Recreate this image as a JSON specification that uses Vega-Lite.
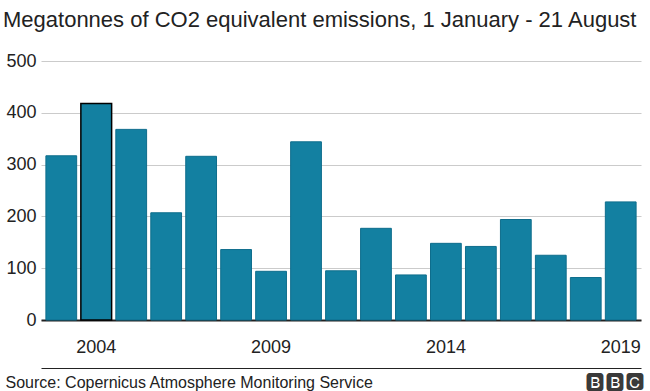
{
  "$schema": "https://vega.github.io/schema/vega-lite/v6.json",
  "width": 600,
  "height": 259,
  "autosize": {"type": "none"},
  "padding": {"left": 41, "top": 61, "right": 9, "bottom": 71},
  "background": "white",
  "config": {"view": {"stroke": null}, "font": "Liberation Sans"},
  "title": {
    "text": "Megatonnes of CO2 equivalent emissions, 1 January - 21 August",
    "anchor": "start",
    "frame": "group",
    "dx": -38,
    "fontSize": 22,
    "font": "Liberation Sans",
    "fontWeight": "normal",
    "color": "#222222",
    "baseline": "alphabetic",
    "offset": 3
  },
  "data": {
    "values": [
      {"year": 2003, "value": 317},
      {"year": 2004, "value": 418},
      {"year": 2005, "value": 368},
      {"year": 2006, "value": 207},
      {"year": 2007, "value": 316},
      {"year": 2008, "value": 136},
      {"year": 2009, "value": 94},
      {"year": 2010, "value": 344},
      {"year": 2011, "value": 95},
      {"year": 2012, "value": 177},
      {"year": 2013, "value": 87},
      {"year": 2014, "value": 148},
      {"year": 2015, "value": 142},
      {"year": 2016, "value": 194},
      {"year": 2017, "value": 125},
      {"year": 2018, "value": 82},
      {"year": 2019, "value": 228}
    ]
  },
  "layer": [
    {
      "mark": {"type": "bar", "fill": "#1380A1"},
      "encoding": {
        "x": {
          "field": "year",
          "type": "ordinal",
          "scale": {"type": "band", "paddingInner": 0.12, "paddingOuter": 0.14},
          "axis": {
            "values": [2004, 2009, 2014, 2019],
            "labelAngle": 0,
            "ticks": false,
            "grid": false,
            "domainColor": "#222222",
            "domainWidth": 2,
            "labelFontSize": 18,
            "labelFont": "Liberation Sans",
            "labelColor": "#222222",
            "labelPadding": 18,
            "title": null
          }
        },
        "y": {
          "field": "value",
          "type": "quantitative",
          "scale": {"domain": [0, 500]},
          "axis": {
            "values": [0, 100, 200, 300, 400, 500],
            "ticks": false,
            "domain": false,
            "grid": true,
            "gridColor": "#cbcbcb",
            "gridWidth": 1,
            "labelFontSize": 18,
            "labelFont": "Liberation Sans",
            "labelColor": "#222222",
            "labelPadding": 5,
            "title": null
          }
        },
        "stroke": {"condition": {"test": "datum.year == 2004", "value": "#000000"}, "value": "#0e6d8c"},
        "strokeWidth": {"condition": {"test": "datum.year == 2004", "value": 1.5}, "value": 1}
      }
    },
    {
      "mark": {"type": "tick", "opacity": 0},
      "encoding": {
        "x": {
          "field": "year",
          "type": "ordinal",
          "scale": {"type": "band", "paddingInner": 0.12, "paddingOuter": 0.14},
          "axis": {
            "orient": "bottom",
            "offset": 48,
            "domainColor": "#222222",
            "domainWidth": 1,
            "ticks": false,
            "grid": false,
            "labelAngle": 0,
            "labelExpr": "datum.label == '2019' ? '🅱🅱🅲' : ''",
            "labelFont": "DejaVu Sans",
            "labelFontSize": 21,
            "labelColor": "#3a3a3a",
            "labelPadding": 2,
            "labelOffset": -6,
            "title": "Source: Copernicus Atmosphere Monitoring Service",
            "titleFont": "Liberation Sans",
            "titleFontSize": 16,
            "titleFontWeight": "normal",
            "titleColor": "#222222",
            "titleAnchor": "start",
            "titleAlign": "left",
            "titleBaseline": "alphabetic",
            "titleX": -36,
            "titleY": 19
          }
        }
      }
    }
  ],
  "resolve": {"scale": {"x": "independent"}, "axis": {"x": "independent"}}
}
